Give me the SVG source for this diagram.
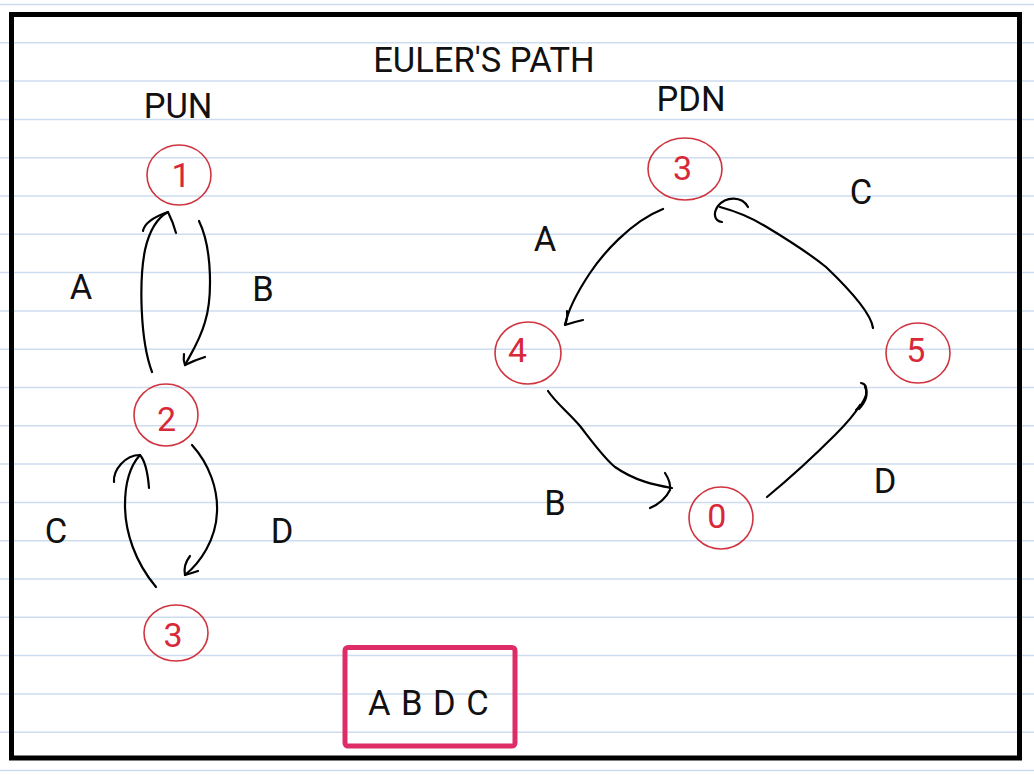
<svg xmlns="http://www.w3.org/2000/svg" width="1034" height="775" viewBox="0 0 1034 775">
<style>
.rule{stroke:#cddcef;stroke-width:1.5}
.node ellipse{fill:none;stroke:#cf3440;stroke-width:1.6}
.node text{fill:#d8293a;font-family:Roboto,"Liberation Sans",sans-serif;font-size:34px;text-anchor:middle}
.lbl{fill:#111;font-family:Roboto,"Liberation Sans",sans-serif;font-size:34.5px;text-anchor:middle}
.edge{fill:none;stroke:#000;stroke-width:2.2;stroke-linecap:round;stroke-linejoin:round}
</style>
<rect width="1034" height="775" fill="#fff"/>
<g id="paper-lines">
<line class="rule" x1="0" y1="4.5" x2="1034" y2="4.5"/>
<line class="rule" x1="0" y1="42.8" x2="1034" y2="42.8"/>
<line class="rule" x1="0" y1="81.1" x2="1034" y2="81.1"/>
<line class="rule" x1="0" y1="119.4" x2="1034" y2="119.4"/>
<line class="rule" x1="0" y1="157.7" x2="1034" y2="157.7"/>
<line class="rule" x1="0" y1="196" x2="1034" y2="196"/>
<line class="rule" x1="0" y1="234.3" x2="1034" y2="234.3"/>
<line class="rule" x1="0" y1="272.6" x2="1034" y2="272.6"/>
<line class="rule" x1="0" y1="310.9" x2="1034" y2="310.9"/>
<line class="rule" x1="0" y1="349.2" x2="1034" y2="349.2"/>
<line class="rule" x1="0" y1="387.5" x2="1034" y2="387.5"/>
<line class="rule" x1="0" y1="425.8" x2="1034" y2="425.8"/>
<line class="rule" x1="0" y1="464.1" x2="1034" y2="464.1"/>
<line class="rule" x1="0" y1="502.4" x2="1034" y2="502.4"/>
<line class="rule" x1="0" y1="540.7" x2="1034" y2="540.7"/>
<line class="rule" x1="0" y1="579" x2="1034" y2="579"/>
<line class="rule" x1="0" y1="617.3" x2="1034" y2="617.3"/>
<line class="rule" x1="0" y1="655.6" x2="1034" y2="655.6"/>
<line class="rule" x1="0" y1="693.9" x2="1034" y2="693.9"/>
<line class="rule" x1="0" y1="732.2" x2="1034" y2="732.2"/>
<line class="rule" x1="0" y1="770.5" x2="1034" y2="770.5"/>
</g>
<rect id="frame" x="11.5" y="14.5" width="1008" height="743.5" fill="none" stroke="#000" stroke-width="5"/>
<g id="titles">
<text class="lbl" x="484" y="72" font-size="35.5">EULER'S PATH</text>
<text class="lbl" x="178" y="118">PUN</text>
<text class="lbl" x="691" y="111">PDN</text>
</g>
<g id="labels">
<text class="lbl" x="81" y="299">A</text>
<text class="lbl" x="263" y="301">B</text>
<text class="lbl" x="56" y="543">C</text>
<text class="lbl" x="282" y="543">D</text>
<text class="lbl" x="545" y="251">A</text>
<text class="lbl" x="861" y="204">C</text>
<text class="lbl" x="555" y="515">B</text>
<text class="lbl" x="885" y="493">D</text>
</g>
<g id="pun-1" class="node"><ellipse cx="179" cy="175" rx="32" ry="30"/><text x="181" y="187">1</text></g>
<g id="pun-2" class="node"><ellipse cx="166" cy="415" rx="32" ry="31"/><text x="166.5" y="431">2</text></g>
<g id="pun-3" class="node"><ellipse cx="176" cy="633" rx="32" ry="28"/><text x="173" y="646.5">3</text></g>
<g id="pdn-3" class="node"><ellipse cx="685" cy="169" rx="37" ry="31"/><text x="682.5" y="180">3</text></g>
<g id="pdn-4" class="node"><ellipse cx="528" cy="353" rx="33" ry="31"/><text x="517.5" y="361.5">4</text></g>
<g id="pdn-0" class="node"><ellipse cx="721" cy="518" rx="32" ry="31"/><text x="716.7" y="528">0</text></g>
<g id="pdn-5" class="node"><ellipse cx="918" cy="353" rx="32" ry="30"/><text x="915.7" y="361.5">5</text></g>
<g id="connectors">
<path class="edge" d="M 152 372 C 140 340, 139 280, 145 250 C 149 232, 157 218, 168 212"/>
<path class="edge" d="M 143 231 Q 145 220 168 212 Q 173 222 176 233"/>
<path class="edge" d="M 199 221 C 213 250, 212 300, 205 322 C 200 340, 192 352, 185 365"/>
<path class="edge" d="M 184 354 Q 183 360 185 365 Q 195 360 205 357"/>
<path class="edge" d="M 156 587 C 135 562, 125 532, 125 505 C 125 482, 130 466, 140 455"/>
<path class="edge" d="M 114 482 C 113 470, 125 455, 140 455 C 146 462, 148 475, 149 488"/>
<path class="edge" d="M 192 445 C 210 465, 218 490, 217 512 C 216 540, 200 563, 185 575"/>
<path class="edge" d="M 190 556 Q 183 565 185 575 Q 192 573 198 571"/>
<path class="edge" d="M 663 209 C 630 222, 602 255, 590 273 C 576 294, 568 310, 565 325"/>
<path class="edge" d="M 567 311 Q 568 318 565 325 Q 574 322 583 320"/>
<path class="edge" d="M 548 391 C 556 403, 568 412, 580 426 C 594 444, 604 458, 615 467 C 635 481, 655 485, 672 488"/>
<path class="edge" d="M 665 473 Q 671 482 670 490 Q 664 502 650 508"/>
<path class="edge" d="M 873 328 C 871 312, 848 288, 826 267 C 805 250, 785 238, 765 226 C 750 217, 735 211, 720 207"/>
<path class="edge" d="M 748 207 C 742 196, 726 196, 718 206 C 713 213, 714 221, 722 222"/>
<path class="edge" d="M 767 497 C 790 478, 815 455, 835 435 C 848 422, 856 412, 860 405"/>
<path class="edge" d="M 861 383 Q 868 384 866 395 Q 863 404 856 410"/>
<path class="edge" d="M 865 387 Q 870 397 859 409"/>
</g>
<g id="answer">
<rect x="345" y="647.5" width="170" height="98.5" rx="3" fill="none" stroke="#de2d66" stroke-width="5"/>
<text class="lbl" x="368" y="715" font-size="34.5" style="text-anchor:start" letter-spacing="1">A B D C</text>
</g>
</svg>
